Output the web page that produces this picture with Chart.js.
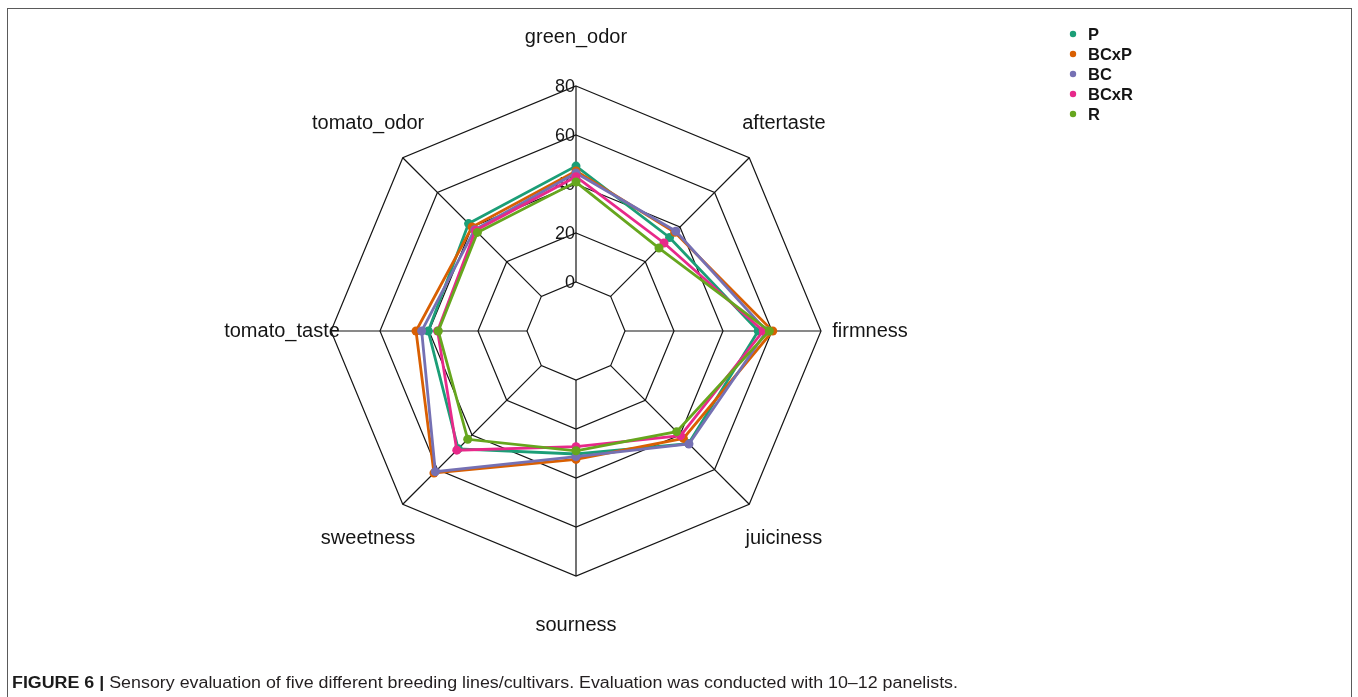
<!DOCTYPE html>
<html>
<head>
<meta charset="utf-8">
<script src="https://cdn.jsdelivr.net/npm/chart.js@4.4.1/dist/chart.umd.min.js"></script>
<style>
  html, body { margin: 0; padding: 0; background: #fff; }
  #wrap { position: relative; width: 1358px; height: 697px; overflow: hidden; }
  #frame { position: absolute; left: 7px; top: 8px; width: 1345px; height: 740px; border: 1.5px solid #5a5a5a; box-sizing: border-box; }
  #c { position: absolute; left: 0; top: 0; }
  #caption { position: absolute; left: 12px; top: 674px; font: 16px 'Liberation Sans', Arial, sans-serif; color: #231f20; white-space: nowrap; transform-origin: 0 50%; line-height: 18px; }
  #caption b { color: #1b1b1b; }
</style>
</head>
<body>
<div id="wrap">
  <div id="frame"></div>
  <canvas id="c" width="1358" height="697"></canvas>
  <div id="caption"><b>FIGURE 6 |</b> Sensory evaluation of five different breeding lines/cultivars. Evaluation was conducted with 10–12 panelists.</div>
</div>
<script>
// Sensory attributes, clockwise from the top
const categories = ['green_odor', 'aftertaste', 'firmness', 'juiciness', 'sourness', 'sweetness', 'tomato_taste', 'tomato_odor'];

// Breeding lines / cultivars
const seriesNames  = ['P', 'BCxP', 'BC', 'BCxR', 'R'];
const seriesColors = ['#1B9E77', '#D95F02', '#7570B3', '#E7298A', '#66A61E'];

// Mean panel scores per attribute
const valuesP    = [47.3, 34.0, 54.4, 45.0, 30.2, 48.0, 40.3, 42.0];
const valuesBCxP = [45.3, 37.0, 60.3, 42.0, 32.4, 62.0, 45.3, 40.0];
const valuesBC   = [44.5, 37.6, 57.8, 45.2, 31.3, 61.2, 43.0, 38.5];
const valuesBCxR = [43.0, 30.8, 56.4, 40.4, 27.2, 48.8, 36.5, 38.0];
const valuesR    = [40.8, 27.9, 58.9, 38.1, 28.9, 42.5, 36.2, 36.9];

// Radial axis
const tickLabels = ['0', '20', '40', '60', '80'];
const tickValues = [0, 20, 40, 60, 80];
const axisMin = -20;
const axisMax = 80;

const seriesValues = [valuesP, valuesBCxP, valuesBC, valuesBCxR, valuesR];
const inkColor = '#151515';
const baseFont = "'Liberation Sans', Arial, Helvetica, sans-serif";

// Spokes run from the zero ring to the outer ring; tick labels sit left of the top spoke
const spokesAndTicks = {
  id: 'spokesAndTicks',
  beforeDatasetsDraw(chart) {
    const s = chart.scales.r;
    const ctx = chart.ctx;
    ctx.save();
    ctx.strokeStyle = inkColor;
    ctx.lineWidth = 1.2;
    const inner = s.getDistanceFromCenterForValue(0);
    const outer = s.getDistanceFromCenterForValue(axisMax);
    for (let i = 0; i < categories.length; i++) {
      const a = s.getPointPosition(i, inner);
      const b = s.getPointPosition(i, outer);
      ctx.beginPath();
      ctx.moveTo(a.x, a.y);
      ctx.lineTo(b.x, b.y);
      ctx.stroke();
    }
    ctx.fillStyle = inkColor;
    ctx.font = '18px ' + baseFont;
    ctx.textAlign = 'right';
    ctx.textBaseline = 'middle';
    tickValues.forEach((v, k) => {
      const p = s.getPointPositionForValue(0, v);
      ctx.fillText(tickLabels[k], s.xCenter - 1, p.y + 1);
    });
    ctx.restore();
  },
  afterDraw(chart) {
    const s = chart.scales.r;
    const ctx = chart.ctx;
    ctx.save();
    // attribute names, centred at 1.2 x the outer radius
    ctx.fillStyle = inkColor;
    ctx.font = '20px ' + baseFont;
    ctx.textAlign = 'center';
    ctx.textBaseline = 'middle';
    categories.forEach((name, i) => {
      const p = s.getPointPosition(i, s.drawingArea * 1.2);
      ctx.fillText(name, p.x, p.y);
    });
    // legend column, top right
    ctx.font = 'bold 16.5px ' + baseFont;
    ctx.textAlign = 'left';
    chart.data.datasets.forEach((ds, i) => {
      const y = 34 + i * 20;
      ctx.fillStyle = ds.borderColor;
      ctx.beginPath();
      ctx.arc(1073, y, 3.2, 0, Math.PI * 2);
      ctx.fill();
      ctx.fillStyle = inkColor;
      ctx.fillText(ds.label, 1088, y + 1);
    });
    ctx.restore();
  }
};

const datasets = seriesNames.map((name, i) => ({
  label: name,
  data: seriesValues[i],
  borderColor: seriesColors[i],
  backgroundColor: seriesColors[i],
  pointBackgroundColor: seriesColors[i],
  pointBorderColor: seriesColors[i],
  pointBorderWidth: 0,
  pointRadius: 4.5,
  borderWidth: 2.8,
  fill: false,
  tension: 0,
  order: seriesNames.length - i
}));

new Chart(document.getElementById('c'), {
  type: 'radar',
  data: { labels: categories, datasets: datasets },
  options: {
    responsive: false,
    animation: false,
    devicePixelRatio: 1,
    layout: { padding: { left: 331, right: 537, top: 86, bottom: 121 } },
    plugins: { legend: { display: false }, tooltip: { enabled: false } },
    scales: {
      r: {
        min: axisMin,
        max: axisMax,
        ticks: { display: false, stepSize: 20 },
        grid: { color: inkColor, lineWidth: 1.2 },
        angleLines: { display: false },
        pointLabels: { display: false }
      }
    }
  },
  plugins: [spokesAndTicks]
});

// fit the caption to its line width
const cap = document.getElementById('caption');
const w = cap.getBoundingClientRect().width;
cap.style.transform = 'scaleX(' + (946 / w) + ')';
</script>
</body>
</html>
